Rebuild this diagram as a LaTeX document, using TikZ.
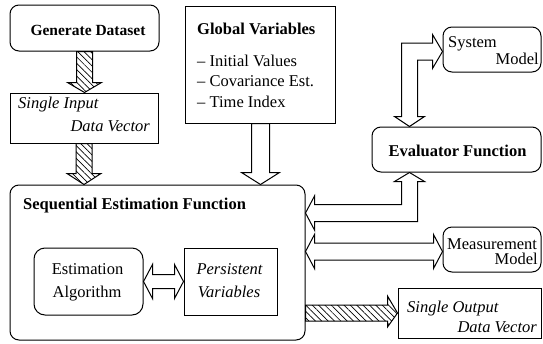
\documentclass[tikz,border=0pt]{standalone}
\usepackage{fontspec}
\setmainfont{Liberation Serif}
\usetikzlibrary{calc,patterns.meta}
\tikzset{
 box/.style={draw, line width=1pt, inner sep=0pt, fill=white},
 rbox/.style={box, rounded corners=9pt},
 txt/.style={inner sep=0pt, font=\fontsize{16.5}{18}\selectfont},
 btxt/.style={inner sep=0pt, font=\fontsize{16.5}{18}\selectfont\bfseries},
 itxt/.style={inner sep=0pt, font=\fontsize{16.5}{18}\selectfont\itshape},
 hollow/.style={draw, line width=1pt, fill=white, line join=miter},
 hatched/.style={draw, line width=1pt, line join=miter, pattern={Lines[angle=-45,distance=4.5pt,line width=0.7pt]}},
}
\begin{document}
\begin{tikzpicture}[x=1pt,y=-1pt]
\fill[white] (0,0) rectangle (543,343);
\useasboundingbox (0,0) rectangle (543,343);
% boxes
\node[rbox, minimum width=149pt, minimum height=46pt] (gen) at (84.5,28) {};
\node[box, minimum width=148pt, minimum height=50pt] (sin) at (84,118) {};
\node[box, minimum width=150pt, minimum height=117pt] (glob) at (260.5,64.5) {};
\node[rbox, minimum width=295pt, minimum height=155pt] (seq) at (157.5,262.5) {};
\node[rbox, rounded corners=11pt, minimum width=109pt, minimum height=67pt] (est) at (88.5,281.5) {};
\node[box, minimum width=93pt, minimum height=67pt] (pers) at (230.5,281.5) {};
\node[rbox, minimum width=98pt, minimum height=45pt] (sys) at (492,49.5) {};
\node[rbox, minimum width=169pt, minimum height=45pt] (eval) at (456.5,149.5) {};
\node[rbox, minimum width=98pt, minimum height=45pt] (meas) at (492,249.5) {};
\node[box, minimum width=143pt, minimum height=50pt] (sout) at (469.5,313) {};
% texts
\node[inner sep=0pt, font=\fontsize{15.5}{18}\selectfont\bfseries, anchor=base] (gent) at (88,35) {Generate Dataset};
\node[btxt, anchor=base west] (globt) at (197,34) {Global Variables};
\node[txt, anchor=base west] (glob1) at (197,66) {– Initial Values};
\node[txt, anchor=base west] (glob2) at (197,86) {– Covariance Est.};
\node[txt, anchor=base west] (glob3) at (197,107) {– Time Index};
\node[itxt, anchor=base west] (sint1) at (18,108) {Single Input};
\node[itxt, anchor=base east] (sint2) at (150,131.5) {Data Vector};
\node[btxt, anchor=base west] (seqt) at (23,209) {Sequential Estimation Function};
\node[txt, anchor=base] (estt1) at (87.5,274.5) {Estimation};
\node[txt, anchor=base] (estt2) at (87,297.5) {Algorithm};
\node[itxt, anchor=base] (perst1) at (229.5,274.5) {Persistent};
\node[itxt, anchor=base] (perst2) at (229,297.5) {Variables};
\node[btxt, anchor=base] (evalt) at (457.5,156) {Evaluator Function};
\node[txt, anchor=base west] (syst1) at (448,47.5) {System};
\node[txt, anchor=base east] (syst2) at (539,64.5) {Model};
\node[txt, anchor=base west] (meast1) at (447,249.5) {Measurement};
\node[txt, anchor=base east] (meast2) at (538,264.5) {Model};
\node[itxt, anchor=base west] (soutt1) at (407,312.5) {Single Output};
\node[itxt, anchor=base east] (soutt2) at (537,332.5) {Data Vector};
% arrows
\path[hatched] let \p1=(gen.south), \p2=(sin.north) in
  (\x1-8pt,\y1) -- (\x1-8pt,\y2+10pt) -- (\x1-17pt,\y2+10pt) -- (\x1,\y2) -- (\x1+17pt,\y2+10pt) -- (\x1+8pt,\y2+10pt) -- (\x1+8pt,\y1) -- cycle;
\path[hatched] let \p1=(sin.south), \p2=(sin.south |- seq.north) in
  (\x1-8pt,\y1) -- (\x1-8pt,\y2+11pt) -- (\x1-17pt,\y2+11pt) -- (\x1,\y2) -- (\x1+17pt,\y2+11pt) -- (\x1+8pt,\y2+11pt) -- (\x1+8pt,\y1) -- cycle;
\path[hollow] let \p1=(glob.south), \p2=(glob.south |- seq.north) in
  (\x1-9pt,\y1) -- (\x1-9pt,\y2+12pt) -- (\x1-19pt,\y2+12pt) -- (\x1,\y2) -- (\x1+19pt,\y2+12pt) -- (\x1+9pt,\y2+12pt) -- (\x1+9pt,\y1) -- cycle;
\path[hollow] let \p1=(est.east), \p2=(pers.west) in
  (\x1,\y1) -- (\x1+9pt,\y1+17pt) -- (\x1+9pt,\y1+7pt) -- (\x2-9pt,\y1+7pt) -- (\x2-9pt,\y1+17pt) -- (\x2,\y1) -- (\x2-9pt,\y1-17pt) -- (\x2-9pt,\y1-7pt) -- (\x1+9pt,\y1-7pt) -- (\x1+9pt,\y1-17pt) -- cycle;
\path[hollow] let \p1=(seq.east |- meas.west), \p2=(meas.west) in
  (\x1,\y1-2pt) -- (\x1+9pt,\y1+15pt) -- (\x1+9pt,\y1+6.5pt) -- (\x2-9pt,\y1+6.5pt) -- (\x2-9pt,\y1+15pt) -- (\x2,\y1-2pt) -- (\x2-9pt,\y1-19pt) -- (\x2-9pt,\y1-10.5pt) -- (\x1+9pt,\y1-10.5pt) -- (\x1+9pt,\y1-19pt) -- cycle;
\path[hatched] let \p1=(seq.east |- sout.west), \p2=(sout.west) in
  (\x1,\y1+8pt) -- (\x2-10pt,\y1+8pt) -- (\x2-10pt,\y1+17pt) -- (\x2,\y1) -- (\x2-10pt,\y1-14pt) -- (\x2-10pt,\y1-8pt) -- (\x1,\y1-8pt) -- cycle;
\path[hollow] let \p1=($(eval.north west)+(38,0)$), \p2=(sys.west) in
  (\x1,\y1) -- (\x1+15pt,\y1+10pt) -- (\x1+8pt,\y1+10pt) -- (\x1+8pt,\y2-10.5pt) -- (\x2-10pt,\y2-10.5pt) -- (\x2-10pt,\y2-19pt) -- (\x2,\y2-2pt) -- (\x2-10pt,\y2+15pt) -- (\x2-10pt,\y2+6.5pt) -- (\x1-8pt,\y2+6.5pt) -- (\x1-8pt,\y1+10pt) -- (\x1-15pt,\y1+10pt) -- cycle;
\path[hollow] let \p1=($(eval.south west)+(38,0)$), \p2=($(seq.north east)+(0,28.5)$) in
  (\x1,\y1) -- (\x1+15pt,\y1-9pt) -- (\x1+8pt,\y1-9pt) -- (\x1+8pt,\y2-8.5pt) -- (\x2+9pt,\y2-8.5pt) -- (\x2+9pt,\y2-17pt) -- (\x2,\y2) -- (\x2+9pt,\y2+17pt) -- (\x2+9pt,\y2+8.5pt) -- (\x1-8pt,\y2+8.5pt) -- (\x1-8pt,\y1-9pt) -- (\x1-15pt,\y1-9pt) -- cycle;
\end{tikzpicture}
\end{document}
